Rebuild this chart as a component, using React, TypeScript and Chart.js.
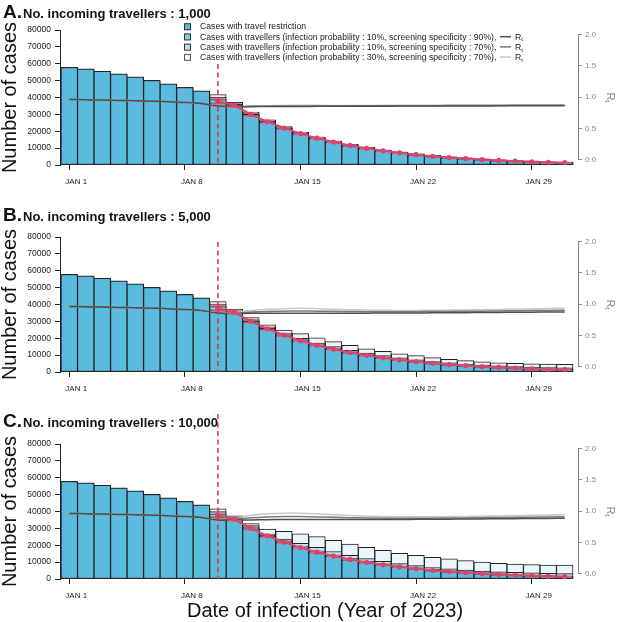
import React, { useEffect, useRef } from "react";
import { Chart, registerables } from "chart.js";

Chart.register(...registerables);

const FONT = "'Liberation Sans', Arial, Helvetica, sans-serif";

// ---------- data ----------
const DAYS = [1, 2, 3, 4, 5, 6, 7, 8, 9, 10, 11, 12, 13, 14, 15, 16, 17, 18, 19, 20, 21, 22, 23, 24, 25, 26, 27, 28, 29, 30, 31];
const X_TICK_DAYS = [1, 8, 15, 22, 29];
const X_TICK_LABELS = ["JAN 1", "JAN 8", "JAN 15", "JAN 22", "JAN 29"];
const Y_TICKS = [0, 10000, 20000, 30000, 40000, 50000, 60000, 70000, 80000];
const RT_TICKS = [0, 0.5, 1, 1.5, 2];
const RT_TICK_LABELS = ["0.0", "0.5", "1.0", "1.5", "2.0"];
const INTERVENTION_DAY = 10;

// Cases with travel restriction (Jan 1 - Jan 31)
const CASES_RESTRICTION = [57800, 56900, 55500, 53900, 52100, 50100, 48000, 45900, 43800, 36800, 34900, 29700, 25300, 21600, 18400, 15700, 13400, 11400, 9700, 8200, 7000, 5900, 5000, 4200, 3600, 3000, 2500, 2100, 1700, 1400, 1200];

// Red estimates with interval (Jan 10 - Jan 31)
const RED_DAYS = [10, 11, 12, 13, 14, 15, 16, 17, 18, 19, 20, 21, 22, 23, 24, 25, 26, 27, 28, 29, 30, 31];
const RED_MEAN = [37800, 35400, 30000, 25600, 21900, 18600, 15900, 13600, 11600, 9900, 8400, 7200, 6100, 5200, 4400, 3800, 3200, 2700, 2300, 1900, 1600, 1400];
const RED_LOW = [36000, 34400, 29100, 24900, 21300, 18100, 15500, 13300, 11350, 9700, 8200, 7000, 5950, 5050, 4250, 3650, 3050, 2550, 2150, 1750, 1450, 1250];
const RED_HIGH = [39600, 36400, 30900, 26300, 22500, 19100, 16300, 13900, 11850, 10100, 8600, 7400, 6250, 5350, 4550, 3950, 3350, 2850, 2450, 2050, 1750, 1550];

// Scenario cases after the restriction (Jan 10 - Jan 31); before that they equal the restriction case
const S1_POST_A = [38700, 35400, 30000, 25600, 21850, 18600, 15850, 13550, 11550, 9820, 8330, 7100, 6020, 5100, 4300, 3680, 3070, 2570, 2160, 1760, 1450, 1250];
const S2_POST_A = [40100, 36000, 30400, 26000, 22200, 18900, 16100, 13800, 11800, 10050, 8550, 7300, 6250, 5300, 4550, 3850, 3250, 2750, 2300, 1900, 1600, 1380];
const S3_POST_A = [41800, 37200, 31300, 26800, 22800, 19400, 16500, 14200, 12250, 10470, 8900, 7700, 6650, 5700, 4900, 4150, 3550, 3000, 2550, 2150, 1800, 1600];

const S1_POST_B = [38700, 35500, 30200, 25900, 22200, 19000, 16300, 14000, 12000, 10300, 8800, 7600, 6500, 5500, 4700, 4050, 3450, 2950, 2500, 2100, 1800, 1600];
const S2_POST_B = [40200, 36300, 30900, 26600, 23000, 19900, 17200, 15000, 12900, 11200, 9700, 8400, 7200, 6200, 5400, 4700, 4100, 3600, 3200, 2900, 2600, 2400];
const S3_POST_B = [41800, 37300, 32200, 27900, 24900, 22700, 20300, 18000, 15800, 13800, 12200, 10700, 9700, 8500, 7500, 6700, 6100, 5500, 5100, 4900, 4700, 4600];

const S1_POST_C = [38600, 35600, 30500, 26000, 22400, 19300, 16600, 14200, 12200, 10500, 9000, 7700, 6600, 5700, 4900, 4200, 3600, 3100, 2650, 2250, 1950, 1700];
const S2_POST_C = [40000, 36200, 31600, 26600, 23600, 21100, 18800, 16300, 14000, 12100, 10500, 9100, 7900, 6800, 6000, 5300, 4700, 4200, 3900, 3600, 3400, 3200];
const S3_POST_C = [41600, 37400, 32800, 29600, 28200, 26800, 25100, 22900, 20700, 18800, 17000, 15200, 14000, 12900, 11900, 10900, 10100, 9300, 8900, 8500, 8300, 8200];

// Rt: Jan 1 - Jan 10 common, then per scenario Jan 11 - Jan 31
const RT_PRE = [0.965, 0.96, 0.955, 0.95, 0.945, 0.938, 0.93, 0.918, 0.9, 0.862];
const RT1_POST_A = [0.848, 0.85, 0.852, 0.853, 0.854, 0.855, 0.856, 0.857, 0.857, 0.858, 0.859, 0.86, 0.86, 0.861, 0.862, 0.862, 0.863, 0.864, 0.865, 0.866, 0.866];
const RT2_POST_A = [0.85, 0.855, 0.858, 0.86, 0.861, 0.862, 0.862, 0.863, 0.863, 0.864, 0.865, 0.866, 0.866, 0.867, 0.868, 0.869, 0.87, 0.871, 0.872, 0.873, 0.874];
const RT3_POST_A = [0.852, 0.86, 0.866, 0.87, 0.871, 0.871, 0.87, 0.87, 0.87, 0.871, 0.872, 0.873, 0.874, 0.875, 0.876, 0.877, 0.878, 0.879, 0.88, 0.881, 0.882];

const RT1_POST_B = [0.85, 0.855, 0.857, 0.858, 0.858, 0.858, 0.858, 0.858, 0.858, 0.86, 0.86, 0.862, 0.863, 0.865, 0.866, 0.868, 0.87, 0.872, 0.874, 0.876, 0.878];
const RT2_POST_B = [0.86, 0.875, 0.885, 0.89, 0.892, 0.89, 0.887, 0.884, 0.882, 0.881, 0.881, 0.882, 0.884, 0.886, 0.888, 0.89, 0.893, 0.896, 0.899, 0.902, 0.905];
const RT3_POST_B = [0.87, 0.9, 0.92, 0.93, 0.935, 0.93, 0.922, 0.914, 0.908, 0.904, 0.902, 0.902, 0.904, 0.907, 0.91, 0.914, 0.918, 0.922, 0.927, 0.932, 0.937];

const RT1_POST_C = [0.855, 0.862, 0.866, 0.868, 0.869, 0.869, 0.868, 0.868, 0.868, 0.869, 0.87, 0.871, 0.872, 0.874, 0.876, 0.878, 0.88, 0.882, 0.884, 0.886, 0.888];
const RT2_POST_C = [0.87, 0.895, 0.91, 0.915, 0.915, 0.91, 0.903, 0.897, 0.893, 0.89, 0.889, 0.889, 0.89, 0.892, 0.894, 0.897, 0.9, 0.903, 0.906, 0.909, 0.912];
const RT3_POST_C = [0.89, 0.935, 0.96, 0.97, 0.968, 0.958, 0.945, 0.932, 0.922, 0.916, 0.912, 0.911, 0.912, 0.915, 0.918, 0.922, 0.926, 0.931, 0.936, 0.941, 0.946];

const PANEL_LETTERS = ["A.", "B.", "C."];
const PANEL_TITLES = [
  "No. incoming travellers : 1,000",
  "No. incoming travellers : 5,000",
  "No. incoming travellers : 10,000",
];
const LEGEND_LABELS = [
  "Cases with travel restriction",
  "Cases with travellers (infection probability : 10%, screening specificity : 90%),",
  "Cases with travellers (infection probability : 10%, screening specificity : 70%),",
  "Cases with travellers (infection probability : 30%, screening specificity : 70%),",
];
const Y_TITLE = "Number of cases";
const X_TITLE = "Date of infection (Year of 2023)";

const S1_POST = [S1_POST_A, S1_POST_B, S1_POST_C];
const S2_POST = [S2_POST_A, S2_POST_B, S2_POST_C];
const S3_POST = [S3_POST_A, S3_POST_B, S3_POST_C];
const RT1_POST = [RT1_POST_A, RT1_POST_B, RT1_POST_C];
const RT2_POST = [RT2_POST_A, RT2_POST_B, RT2_POST_C];
const RT3_POST = [RT3_POST_A, RT3_POST_B, RT3_POST_C];

// ---------- style / layout ----------
const BAR_COLORS = ["#5BBBDF", "#7FCAE4", "#BCE1EC", "#EBF6FA"];
const RT_COLORS = ["#505050", "#7a7a7a", "#c8c8c8"];
const RED = "#d8456b";
const RED_BAR = "rgba(228,104,136,0.95)";
const DASH_RED = "#d63447";
const W = 618;
const PANEL_LAYOUT = [
  { height: 207, titleY: 18, dashTop: 64 },
  { height: 207, titleY: 14, dashTop: 35 },
  { height: 208, titleY: 13, dashTop: 0 },
];
const PLOT_TOP = 30;
const PLOT_BOTTOM = 165;

const xy = (vals: number[], days: number[]) => vals.map((v, k) => ({ x: days[k], y: v }));

function drawLegend(ctx: CanvasRenderingContext2D) {
  ctx.save();
  ctx.font = `10px ${FONT}`;
  const w = ctx.measureText(LEGEND_LABELS[2]).width;
  const size = (10 * 297) / w;
  LEGEND_LABELS.forEach((label, k) => {
    const yc = 26.5 + k * 10.2;
    ctx.fillStyle = BAR_COLORS[k];
    ctx.fillRect(184, yc - 3.25, 6.5, 6.5);
    ctx.strokeStyle = k === 3 ? "#555" : "#333";
    ctx.lineWidth = 1;
    ctx.strokeRect(184.5, yc - 2.75, 6, 6);
    ctx.fillStyle = "#222";
    ctx.font = `${size}px ${FONT}`;
    ctx.textBaseline = "middle";
    ctx.textAlign = "left";
    ctx.fillText(label, 200, yc + 0.5);
    if (k >= 1) {
      ctx.strokeStyle = RT_COLORS[k - 1];
      ctx.lineWidth = 1.5;
      ctx.beginPath();
      ctx.moveTo(500, yc);
      ctx.lineTo(511, yc);
      ctx.stroke();
      ctx.fillStyle = "#222";
      ctx.font = `${size}px ${FONT}`;
      ctx.fillText("R", 515, yc + 0.5);
      const rw = ctx.measureText("R").width;
      ctx.font = `${size * 0.7}px ${FONT}`;
      ctx.fillText("t", 515 + rw, yc + 3);
    }
  });
  ctx.restore();
}

function makePlugin(i: number) {
  const lay = PANEL_LAYOUT[i];
  return {
    id: "overlay" + i,
    beforeDatasetDraw(chart: any, args: any) {
      if (args.index !== 0) return;
      const { ctx } = chart;
      const x = chart.scales.x;
      const y = chart.scales.y;
      const half = (x.getPixelForValue(2) - x.getPixelForValue(1)) / 2 - 1.5;
      ctx.save();
      ctx.strokeStyle = RED_BAR;
      ctx.lineWidth = 1.5;
      RED_DAYS.forEach((d, k) => {
        const px = x.getPixelForValue(d);
        const lo = y.getPixelForValue(RED_LOW[k]);
        const hi = y.getPixelForValue(RED_HIGH[k]);
        ctx.beginPath();
        ctx.moveTo(px - half, lo);
        ctx.lineTo(px + half, lo);
        ctx.moveTo(px - half, hi);
        ctx.lineTo(px + half, hi);
        ctx.moveTo(px, lo);
        ctx.lineTo(px, hi);
        ctx.stroke();
      });
      ctx.restore();
    },
    afterDatasetsDraw(chart: any) {
      const { ctx } = chart;
      const x = chart.scales.x;
      const px = x.getPixelForValue(INTERVENTION_DAY);
      ctx.save();
      ctx.strokeStyle = DASH_RED;
      ctx.lineWidth = 1.5;
      ctx.setLineDash([5, 3.5]);
      ctx.beginPath();
      ctx.moveTo(px, lay.dashTop);
      ctx.lineTo(px, chart.chartArea.bottom);
      ctx.stroke();
      ctx.restore();
    },
    afterDraw(chart: any) {
      const { ctx } = chart;
      const y1 = chart.scales.y1;
      ctx.save();
      ctx.strokeStyle = "#888";
      ctx.lineWidth = 1;
      ctx.beginPath();
      const ax = Math.round(y1.left) + 0.5;
      ctx.moveTo(ax, y1.getPixelForValue(RT_TICKS[0]));
      ctx.lineTo(ax, y1.getPixelForValue(RT_TICKS[RT_TICKS.length - 1]));
      ctx.stroke();
      ctx.save();
      const cy = (chart.chartArea.top + chart.chartArea.bottom) / 2;
      ctx.translate(610, cy);
      ctx.rotate(Math.PI / 2);
      ctx.fillStyle = "#888";
      ctx.textBaseline = "middle";
      ctx.textAlign = "left";
      ctx.font = `11px ${FONT}`;
      const rw = ctx.measureText("R").width;
      ctx.font = `8px ${FONT}`;
      const tw = ctx.measureText("t").width;
      const sx = -(rw + tw) / 2;
      ctx.font = `11px ${FONT}`;
      ctx.fillText("R", sx, 0);
      ctx.font = `8px ${FONT}`;
      ctx.fillText("t", sx + rw, 3);
      ctx.restore();
      ctx.fillStyle = "#111";
      ctx.textBaseline = "alphabetic";
      ctx.textAlign = "left";
      ctx.font = `bold 19px ${FONT}`;
      ctx.fillText(PANEL_LETTERS[i], 3, lay.titleY);
      const lw = ctx.measureText(PANEL_LETTERS[i]).width;
      ctx.font = `bold 13px ${FONT}`;
      ctx.fillText(PANEL_TITLES[i], 3 + lw + 1, lay.titleY);
      if (i === 0) drawLegend(ctx);
      if (i === 2) {
        ctx.font = `20px ${FONT}`;
        ctx.textAlign = "center";
        ctx.textBaseline = "middle";
        ctx.fillStyle = "#111";
        ctx.fillText(X_TITLE, 325, 197);
      }
      ctx.restore();
    },
  };
}

function makeConfig(i: number): any {
  const h = PANEL_LAYOUT[i].height;
  const pre = CASES_RESTRICTION.slice(0, INTERVENTION_DAY - 1);
  const s1 = pre.concat(S1_POST[i]);
  const s2 = pre.concat(S2_POST[i]);
  const s3 = pre.concat(S3_POST[i]);
  const rt1 = RT_PRE.concat(RT1_POST[i]);
  const rt2 = RT_PRE.concat(RT2_POST[i]);
  const rt3 = RT_PRE.concat(RT3_POST[i]);
  const bar = {
    type: "bar",
    grouped: false,
    barPercentage: 1,
    categoryPercentage: 1,
    borderWidth: 1,
    borderColor: "#222",
    borderSkipped: false,
    yAxisID: "y",
  };
  const rtLine = (data: number[], k: number) => ({
    type: "line",
    label: "Rt" + k,
    data: xy(data, DAYS),
    borderColor: RT_COLORS[k],
    borderWidth: 1.5,
    pointRadius: 0,
    tension: 0.3,
    yAxisID: "y1",
    order: 1 + k,
  });
  return {
    type: "bar",
    data: {
      datasets: [
        {
          type: "line",
          label: "estimate",
          data: xy(RED_MEAN, RED_DAYS),
          borderColor: RED,
          borderWidth: 2,
          pointRadius: 2.6,
          pointBackgroundColor: RED,
          pointBorderWidth: 0,
          yAxisID: "y",
          order: 0,
        },
        rtLine(rt1, 0),
        rtLine(rt2, 1),
        rtLine(rt3, 2),
        { ...bar, label: LEGEND_LABELS[0], data: xy(CASES_RESTRICTION, DAYS), backgroundColor: BAR_COLORS[0], order: 10 },
        { ...bar, label: LEGEND_LABELS[1], data: xy(s1, DAYS), backgroundColor: BAR_COLORS[1], order: 11 },
        { ...bar, label: LEGEND_LABELS[2], data: xy(s2, DAYS), backgroundColor: BAR_COLORS[2], order: 12 },
        { ...bar, label: LEGEND_LABELS[3], data: xy(s3, DAYS), backgroundColor: BAR_COLORS[3], order: 13 },
      ],
    },
    options: {
      responsive: false,
      animation: false,
      events: [],
      layout: { padding: { top: PLOT_TOP, left: 0, right: 0, bottom: 0 } },
      plugins: { legend: { display: false }, tooltip: { enabled: false }, title: { display: false } },
      scales: {
        x: {
          type: "linear",
          position: "bottom",
          offset: false,
          min: 0.43945,
          max: 31.8027,
          afterBuildTicks: (s: any) => {
            s.ticks = X_TICK_DAYS.map((v) => ({ value: v }));
          },
          afterFit: (s: any) => {
            s.height = h - PLOT_BOTTOM;
          },
          ticks: {
            autoSkip: false,
            maxRotation: 0,
            padding: 7,
            labelOffset: 7,
            color: "#222",
            font: { family: FONT, size: 8 },
            callback: (v: number) => {
              const k = X_TICK_DAYS.indexOf(v);
              return k >= 0 ? X_TICK_LABELS[k] : "";
            },
          },
          grid: { display: true, offset: false, drawOnChartArea: false, drawTicks: true, tickLength: 5, color: "#222" },
          border: { display: false },
        },
        y: {
          type: "linear",
          position: "left",
          min: 0,
          max: 80000,
          afterBuildTicks: (s: any) => {
            s.ticks = Y_TICKS.map((v) => ({ value: v }));
          },
          afterFit: (s: any) => {
            s.width = 60;
          },
          ticks: {
            padding: 4,
            color: "#222",
            font: { family: FONT, size: 8.5 },
            callback: (v: number) => String(v),
          },
          grid: { drawOnChartArea: false, drawTicks: true, tickLength: 5, color: "#222" },
          border: { display: true, color: "#222", width: 1 },
          title: {
            display: true,
            text: Y_TITLE,
            color: "#111",
            padding: 0,
            font: { family: FONT, size: 20, lineHeight: 1 },
          },
        },
        y1: {
          type: "linear",
          position: "right",
          min: -0.0797,
          max: 2.0717,
          afterBuildTicks: (s: any) => {
            s.ticks = RT_TICKS.map((v) => ({ value: v }));
          },
          afterFit: (s: any) => {
            s.width = 40;
          },
          ticks: {
            padding: 3,
            color: "#888",
            font: { family: FONT, size: 8 },
            callback: (v: number) => {
              const k = RT_TICKS.indexOf(v);
              return k >= 0 ? RT_TICK_LABELS[k] : "";
            },
          },
          grid: { drawOnChartArea: false, drawTicks: true, tickLength: 4, color: "#888" },
          border: { display: false },
        },
      },
    },
    plugins: [makePlugin(i)],
  };
}

function Panel({ index }: { index: number }) {
  const ref = useRef<HTMLCanvasElement | null>(null);
  const h = PANEL_LAYOUT[index].height;
  useEffect(() => {
    if (!ref.current) return;
    const chart = new Chart(ref.current, makeConfig(index));
    return () => chart.destroy();
  }, [index]);
  return <canvas ref={ref} width={W} height={h} style={{ display: "block", width: W, height: h }} />;
}

export default function App() {
  useEffect(() => {
    document.body.style.margin = "0";
  }, []);
  return (
    <div style={{ width: W, background: "#fff" }}>
      <style>{"body{margin:0;background:#fff}"}</style>
      <Panel index={0} />
      <Panel index={1} />
      <Panel index={2} />
    </div>
  );
}
